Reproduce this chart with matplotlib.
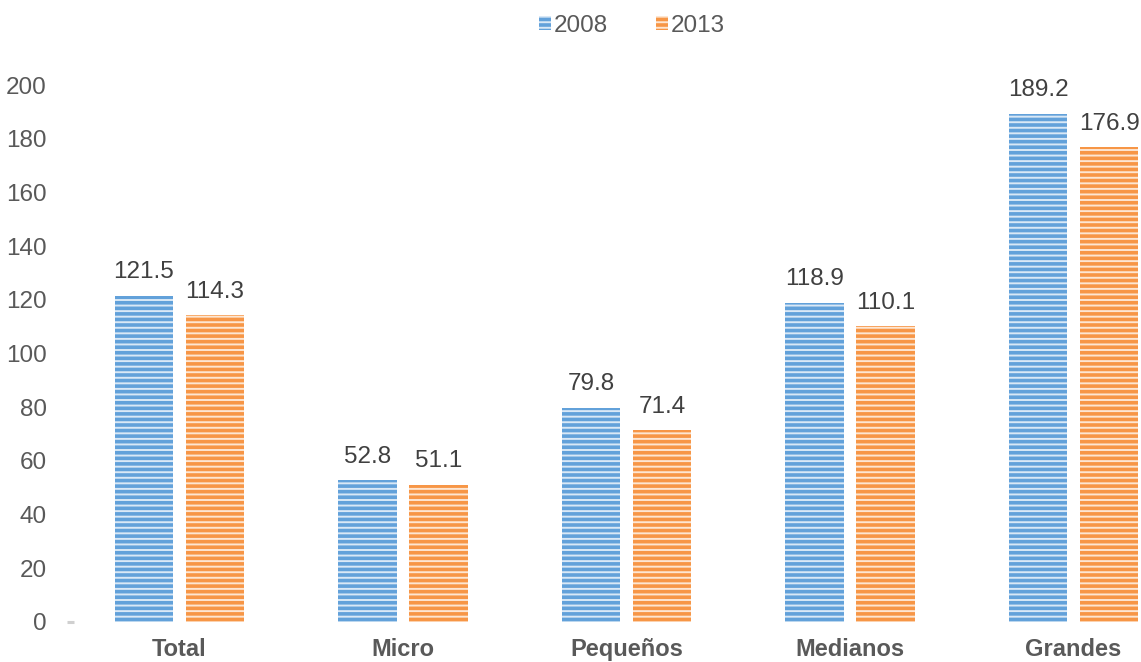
import matplotlib
matplotlib.use("Agg")
import matplotlib.pyplot as plt
import numpy as np

categories = ["Total", "Micro", "Pequeños", "Medianos", "Grandes"]
series_names = ["2008", "2013"]
values_2008 = [121.5, 52.8, 79.8, 118.9, 189.2]
values_2013 = [114.3, 51.1, 71.4, 110.1, 176.9]
yticks = [0, 20, 40, 60, 80, 100, 120, 140, 160, 180, 200]

plt.rcParams['font.family'] = ['Liberation Sans', 'DejaVu Sans']
plt.rcParams['hatch.linewidth'] = 2.6

W, H = 1141, 662
fig = plt.figure(figsize=(W / 100, H / 100), dpi=100)
left_px, right_px, top_px, bottom_px = 74, 1141, 85, 622
ax = fig.add_axes([left_px / W, 1 - bottom_px / H, (right_px - left_px) / W, (bottom_px - top_px) / H])

x = np.arange(len(categories))
width = 0.26
off = 0.159
dark = ["#62A1DA", "#F79646"]
light = ["#D9E8F6", "#FDE6D2"]
fs = 17.5

bars = []
for i, vals in enumerate([values_2008, values_2013]):
    b = ax.bar(x + (i * 2 - 1) * off, vals, width, facecolor=light[i], edgecolor=dark[i],
               linewidth=0, hatch='---', label=series_names[i])
    bars.append(b)
    for xi, v in zip(x + (i * 2 - 1) * off, vals):
        ax.annotate(f"{v:.1f}", (xi, v), xytext=(0, 9), textcoords='offset points',
                    ha='center', va='bottom', fontsize=fs, color='#404040')

ax.set_ylim(0, 200)
cx0 = 179.5
sp = 223.5
ax.set_xlim((left_px - cx0) / sp, (right_px - cx0) / sp)
ax.yaxis.remove_overlapping_locs = False
ax.set_yticks(yticks)
ax.set_yticklabels([str(t) for t in yticks])
ax.tick_params(axis='y', length=0, pad=19.5, labelsize=fs, labelcolor='#595959')
ax.set_yticks([0], minor=True)
ax.tick_params(axis='y', which='minor', length=5, width=2.2, color='#D0D0D0')
ax.set_xticks(x)
ax.set_xticklabels(categories, fontweight='bold')
ax.tick_params(axis='x', length=0, pad=11.5, labelsize=17, labelcolor='#595959')
for s in ax.spines.values():
    s.set_visible(False)

leg = fig.legend(handles=bars, labels=series_names, loc='center', bbox_to_anchor=(632 / W, 1 - 26 / H),
                 ncol=2, frameon=False, fontsize=fs, handlelength=0.5, handleheight=0.5,
                 handletextpad=0.1, columnspacing=2.0, labelcolor='#595959')

fig.savefig("out.png", dpi=100)
